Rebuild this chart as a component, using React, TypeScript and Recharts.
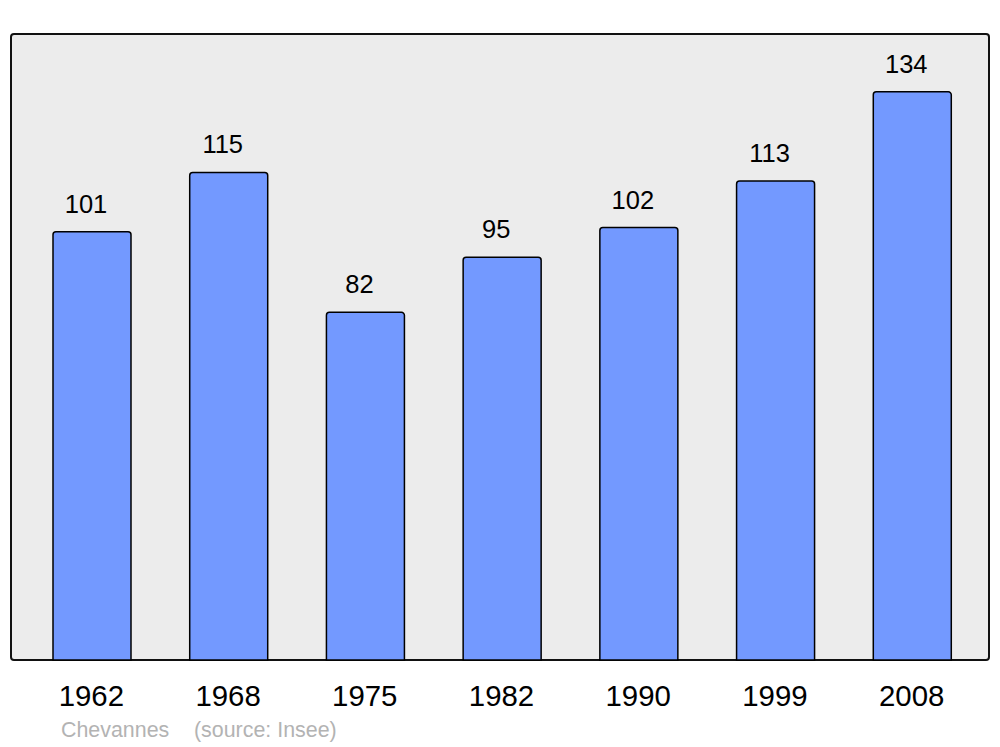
import React from "react";
import { BarChart, Bar, XAxis, YAxis, LabelList } from "recharts";

const years = ["1962", "1968", "1975", "1982", "1990", "1999", "2008"];
const population = [101, 115, 82, 95, 102, 113, 134];
const footerPlace = "Chevannes";
const footerSource = "(source: Insee)";

const data = years.map((y, i) => ({ year: y, pop: population[i] }));

const FONT = "'Liberation Sans', Arial, sans-serif";

export default function App() {
  return (
    <div style={{ position: "absolute", left: 0, top: 0, width: 1000, height: 747, background: "#fff", fontFamily: FONT }}>
      <div
        style={{
          position: "absolute",
          left: 10,
          top: 33,
          width: 976,
          height: 624,
          border: "2.5px solid #111",
          borderRadius: 4,
          background: "#ececec",
        }}
      />
      <div style={{ position: "absolute", left: 0, top: 0 }}>
        <BarChart
          width={1000}
          height={747}
          data={data}
          margin={{ top: 24, right: 19, bottom: 57, left: 24 }}
        >
          <XAxis
            dataKey="year"
            height={30}
            axisLine={false}
            tickLine={false}
            tickMargin={19}
            tick={{ fontSize: 29.4, fill: "#000", fontFamily: FONT, dx: -1 }}
            interval={0}
          />
          <YAxis hide domain={[0, 150]} />
          <Bar
            dataKey="pop"
            fill="#7399ff"
            stroke="#000"
            strokeWidth={1.5}
            barSize={78}
            radius={[3, 3, 0, 0]}
            isAnimationActive={false}
          >
            <LabelList
              dataKey="pop"
              position="top"
              offset={19}
              dx={-6}
              style={{ fontSize: 25.5, fill: "#000", fontFamily: FONT }}
            />
          </Bar>
        </BarChart>
      </div>
      <svg width={1000} height={747} style={{ position: "absolute", left: 0, top: 0, pointerEvents: "none" }}>
        <text x={61} y={737} fontSize={21.4} fill="#b3b3b3" fontFamily={FONT}>{footerPlace}</text>
        <text x={194} y={737} fontSize={21.4} fill="#b3b3b3" fontFamily={FONT}>{footerSource}</text>
      </svg>
    </div>
  );
}
